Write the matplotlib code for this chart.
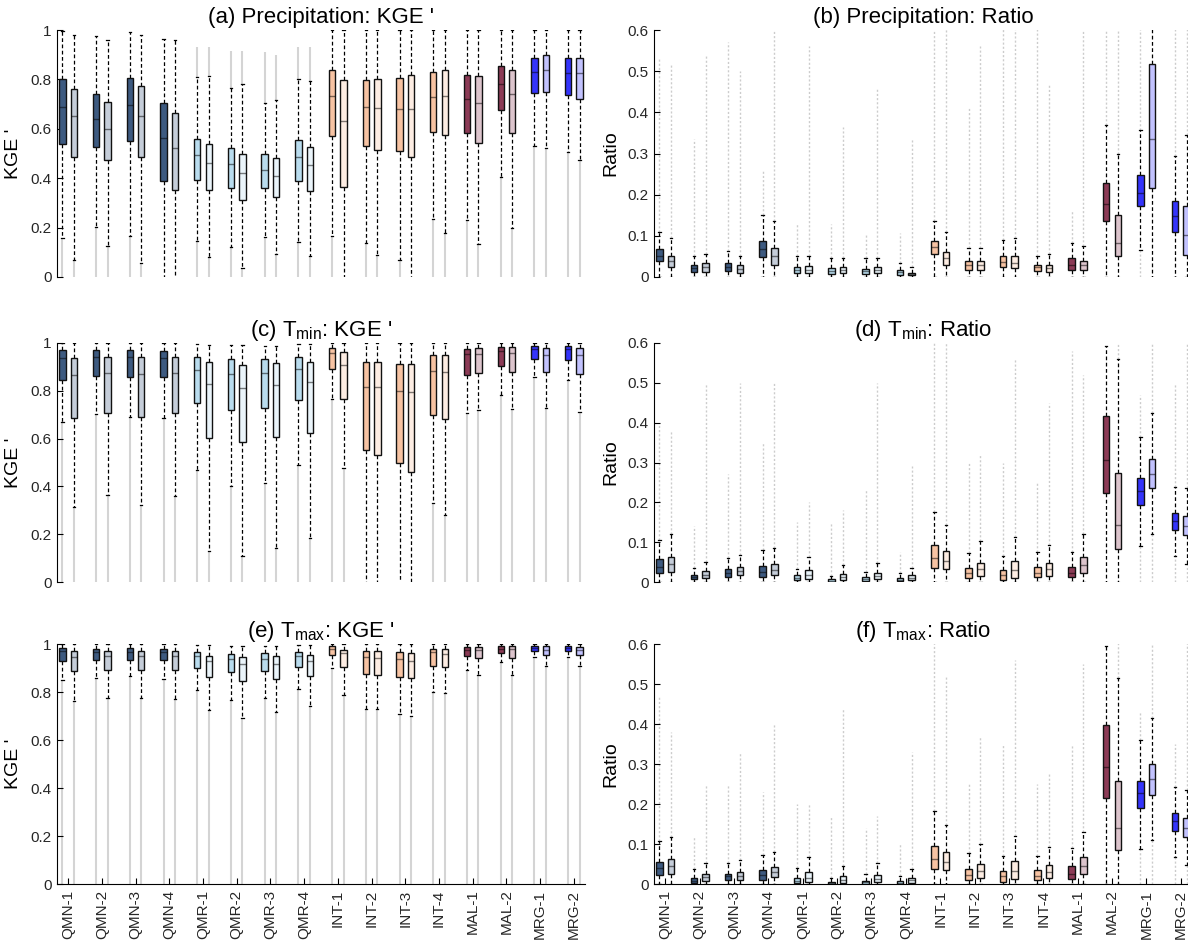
import numpy as np
import matplotlib
matplotlib.use('Agg')
import matplotlib.pyplot as plt
from matplotlib.colors import to_rgb

plt.rcParams['font.family'] = ['Liberation Sans', 'DejaVu Sans']
plt.rcParams['mathtext.fontset'] = 'custom'
plt.rcParams['mathtext.rm'] = 'Liberation Sans'
plt.rcParams['mathtext.it'] = 'Liberation Sans:italic'
plt.rcParams['mathtext.bf'] = 'Liberation Sans:bold'

nan = np.nan

methods = ['QMN-1', 'QMN-2', 'QMN-3', 'QMN-4', 'QMR-1', 'QMR-2', 'QMR-3', 'QMR-4',
           'INT-1', 'INT-2', 'INT-3', 'INT-4', 'MAL-1', 'MAL-2', 'MRG-1', 'MRG-2']
method_colors = ['#3d5a80'] * 4 + ['#b9dcee'] * 4 + ['#f7c3a3'] * 4 + ['#8c3b56'] * 2 + ['#3434fb'] * 2

kge_ticks = [0, 0.2, 0.4, 0.6, 0.8, 1]
kge_labels = ['0', '0.2', '0.4', '0.6', '0.8', '1']
ratio_ticks = [0, 0.1, 0.2, 0.3, 0.4, 0.5, 0.6]
ratio_labels = ['0', '0.1', '0.2', '0.3', '0.4', '0.5', '0.6']

# each list: two boxes per method (first / second), in method order
# (a) precipitation KGE'
a_q1 = [0.54, 0.484, 0.525, 0.473, 0.55, 0.485, 0.39, 0.354, 0.392, 0.351, 0.36, 0.311, 0.362, 0.322, 0.388, 0.348,
        0.57, 0.363, 0.532, 0.516, 0.511, 0.487, 0.589, 0.574, 0.581, 0.541, 0.676, 0.582, 0.745, 0.747, 0.735, 0.722]
a_med = [0.69, 0.65, 0.64, 0.60, 0.697, 0.652, 0.561, 0.524, 0.493, 0.463, 0.456, 0.421, 0.434, 0.408, 0.487, 0.452,
         0.733, 0.633, 0.687, 0.685, 0.681, 0.681, 0.729, 0.733, 0.721, 0.705, 0.781, 0.739, 0.828, 0.84, 0.826, 0.826]
a_q3 = [0.80, 0.76, 0.74, 0.709, 0.806, 0.774, 0.705, 0.664, 0.56, 0.537, 0.524, 0.50, 0.499, 0.481, 0.553, 0.528,
        0.838, 0.797, 0.797, 0.803, 0.806, 0.816, 0.83, 0.838, 0.816, 0.812, 0.856, 0.838, 0.887, 0.898, 0.887, 0.888]
a_wlo = [0.157, 0.07, 0.203, 0.126, 0.164, 0.057, -0.05, -0.05, 0.146, 0.082, 0.12, 0.035, 0.162, 0.093, 0.142, 0.086,
         0.165, -0.05, 0.136, 0.089, 0.07, -0.05, 0.233, 0.178, 0.229, 0.133, 0.406, 0.2, 0.532, 0.521, 0.505, 0.475]
a_whi = [0.997, 0.98, 0.977, 0.96, 0.99, 0.98, 0.964, 0.96, 0.808, 0.814, 0.766, 0.78, 0.705, 0.718, 0.80, 0.795,
         1.0, 1.0, 1.0, 1.0, 1.0, 1.0, 1.0, 1.0, 1.0, 1.0, 1.0, 1.0, 1.0, 1.0, 1.0, 1.0]
a_olo = [-0.05] * 32
a_ohi = [nan, nan, nan, nan, nan, nan, nan, nan, 0.93, 0.93, 0.917, 0.917, 0.91, 0.90, 0.93, 0.93,
         nan, nan, nan, nan, nan, nan, nan, nan, nan, nan, nan, nan, nan, nan, nan, nan]

# (b) precipitation ratio
b_q1 = [0.038, 0.025, 0.013, 0.013, 0.014, 0.01, 0.048, 0.03, 0.009, 0.01, 0.007, 0.009, 0.008, 0.009, 0.005, 0.004,
        0.055, 0.03, 0.018, 0.017, 0.024, 0.022, 0.015, 0.011, 0.017, 0.018, 0.135, 0.05, 0.173, 0.215, 0.11, 0.053]
b_med = [0.05, 0.04, 0.022, 0.024, 0.025, 0.02, 0.068, 0.05, 0.018, 0.018, 0.015, 0.016, 0.014, 0.016, 0.011, 0.008,
         0.072, 0.045, 0.03, 0.028, 0.036, 0.035, 0.024, 0.022, 0.03, 0.028, 0.178, 0.083, 0.205, 0.335, 0.148, 0.103]
b_q3 = [0.067, 0.052, 0.03, 0.033, 0.035, 0.03, 0.088, 0.07, 0.025, 0.026, 0.022, 0.024, 0.02, 0.025, 0.016, 0.01,
        0.088, 0.06, 0.04, 0.04, 0.05, 0.05, 0.03, 0.03, 0.045, 0.04, 0.228, 0.15, 0.247, 0.517, 0.185, 0.172]
b_wlo = [0, 0, 0, 0, 0, 0, 0, 0, 0, 0, 0, 0, 0, 0, 0, 0,
         0, 0, 0, 0, 0, 0, 0, 0, 0, 0, 0, 0, 0.065, 0, 0, 0]
b_whi = [0.11, 0.095, 0.052, 0.056, 0.064, 0.05, 0.15, 0.135, 0.05, 0.05, 0.045, 0.045, 0.045, 0.047, 0.035, 0.025,
         0.135, 0.11, 0.07, 0.07, 0.09, 0.095, 0.05, 0.055, 0.082, 0.076, 0.37, 0.3, 0.357, 0.65, 0.295, 0.345]
b_olo = [nan] * 28 + [0.0, nan, nan, nan]
b_ohi = [0.53, 0.52, 0.336, 0.536, 0.57, 0.5, 0.258, 0.6, 0.13, 0.56, 0.128, 0.364, 0.104, 0.46, 0.108, 0.336,
         0.65, 0.65, 0.41, 0.56, 0.65, 0.65, 0.65, 0.47, 0.16, 0.65, 0.65, 0.65, 0.65, nan, 0.65, 0.65]

# (c) Tmin KGE'
c_q1 = [0.847, 0.686, 0.861, 0.708, 0.858, 0.69, 0.856, 0.706, 0.751, 0.601, 0.72, 0.5875, 0.726, 0.606, 0.7625, 0.624,
        0.893, 0.767, 0.551, 0.53, 0.497, 0.46, 0.70, 0.68, 0.868, 0.875, 0.904, 0.879, 0.933, 0.88, 0.93, 0.872]
c_med = [0.939, 0.868, 0.94, 0.875, 0.94, 0.87, 0.939, 0.875, 0.889, 0.83, 0.87, 0.8125, 0.876, 0.824, 0.89, 0.836,
         0.958, 0.91, 0.817, 0.814, 0.799, 0.794, 0.882, 0.878, 0.953, 0.956, 0.967, 0.96, 0.974, 0.951, 0.974, 0.951]
c_q3 = [0.969, 0.9375, 0.969, 0.94, 0.972, 0.94, 0.967, 0.94, 0.94, 0.919, 0.933, 0.91, 0.933, 0.915, 0.943, 0.922,
        0.98, 0.961, 0.922, 0.922, 0.914, 0.914, 0.951, 0.951, 0.976, 0.98, 0.983, 0.983, 0.988, 0.98, 0.988, 0.979]
c_wlo = [0.67, 0.3125, 0.703, 0.364, 0.69, 0.324, 0.685, 0.358, 0.467, 0.129, 0.40, 0.108, 0.4125, 0.143, 0.489, 0.183,
         0.764, 0.476, -0.05, -0.05, -0.05, -0.05, 0.329, 0.279, 0.706, 0.72, 0.783, 0.724, 0.856, 0.73, 0.847, 0.7125]
c_whi = [1.0, 1.0, 1.0, 1.0, 1.0, 1.0, 1.0, 1.0, 0.996, 0.993, 0.99, 0.99, 0.988, 0.988, 0.996, 0.996,
         1.0, 1.0, 1.0, 1.0, 1.0, 1.0, 1.0, 1.0, 1.0, 1.0, 1.0, 1.0, 1.0, 1.0, 1.0, 1.0]
c_olo = [-0.05] * 32
c_ohi = [nan] * 32

# (d) Tmin ratio
d_q1 = [0.023, 0.026, 0.007, 0.01, 0.013, 0.017, 0.012, 0.018, 0.005, 0.007, 0.001, 0.005, 0.002, 0.007, 0.002, 0.004,
        0.036, 0.033, 0.011, 0.015, 0.004, 0.011, 0.012, 0.016, 0.012, 0.023, 0.223, 0.083, 0.194, 0.235, 0.131, 0.117]
d_med = [0.037, 0.044, 0.012, 0.018, 0.022, 0.027, 0.026, 0.03, 0.01, 0.017, 0.003, 0.012, 0.007, 0.015, 0.006, 0.011,
         0.061, 0.052, 0.022, 0.032, 0.017, 0.03, 0.023, 0.033, 0.023, 0.042, 0.306, 0.143, 0.229, 0.271, 0.154, 0.141]
d_q3 = [0.057, 0.063, 0.018, 0.027, 0.032, 0.037, 0.04, 0.044, 0.017, 0.03, 0.007, 0.02, 0.012, 0.023, 0.01, 0.017,
        0.092, 0.079, 0.035, 0.048, 0.029, 0.052, 0.037, 0.048, 0.037, 0.063, 0.416, 0.273, 0.26, 0.31, 0.173, 0.165]
d_wlo = [0, 0, 0, 0, 0, 0, 0, 0, 0, 0, 0, 0, 0, 0, 0, 0,
         0, 0, 0, 0, 0, 0, 0, 0, 0, 0, 0, 0, 0.09, 0.12, 0.065, 0.046]
d_whi = [0.106, 0.12, 0.036, 0.05, 0.06, 0.069, 0.08, 0.086, 0.033, 0.063, 0.015, 0.042, 0.026, 0.048, 0.022, 0.035,
         0.176, 0.143, 0.073, 0.102, 0.065, 0.113, 0.076, 0.094, 0.076, 0.121, 0.593, 0.56, 0.364, 0.424, 0.238, 0.235]
d_olo = [nan] * 28 + [0.0, 0.0, 0.0, 0.0]
d_ohi = [0.4, 0.38, 0.14, 0.5, 0.27, 0.5, 0.35, 0.5, 0.15, 0.2, 0.15, 0.18, 0.23, 0.5, 0.075, 0.29,
         0.65, 0.65, 0.3, 0.32, 0.3, 0.56, 0.25, 0.45, 0.58, 0.52, nan, 0.65, 0.47, 0.65, 0.5, 0.65]

# (e) Tmax KGE'
e_q1 = [0.93, 0.886, 0.932, 0.893, 0.935, 0.893, 0.932, 0.893, 0.9, 0.862, 0.882, 0.844, 0.889, 0.854, 0.904, 0.865,
        0.954, 0.903, 0.876, 0.872, 0.861, 0.857, 0.91, 0.903, 0.949, 0.942, 0.962, 0.943, 0.971, 0.954, 0.971, 0.953]
e_med = [0.969, 0.946, 0.965, 0.949, 0.967, 0.949, 0.967, 0.949, 0.949, 0.928, 0.939, 0.918, 0.939, 0.918, 0.949, 0.928,
         0.979, 0.962, 0.946, 0.943, 0.937, 0.93, 0.965, 0.958, 0.976, 0.976, 0.98, 0.979, 0.983, 0.976, 0.983, 0.974]
e_q3 = [0.982, 0.971, 0.98, 0.971, 0.983, 0.971, 0.98, 0.971, 0.965, 0.951, 0.958, 0.944, 0.962, 0.949, 0.967, 0.953,
        0.99, 0.976, 0.972, 0.972, 0.967, 0.962, 0.979, 0.979, 0.987, 0.987, 0.99, 0.99, 0.99, 0.99, 0.99, 0.987]
e_wlo = [0.851, 0.764, 0.857, 0.775, 0.865, 0.773, 0.854, 0.77, 0.807, 0.726, 0.768, 0.693, 0.775, 0.715, 0.812, 0.74,
         0.9, 0.789, 0.729, 0.729, 0.708, 0.701, 0.8, 0.796, 0.89, 0.872, 0.924, 0.872, 0.946, 0.907, 0.946, 0.907]
e_whi = [1.0, 1.0, 1.0, 1.0, 1.0, 1.0, 1.0, 1.0, 0.994, 0.994, 0.992, 0.992, 0.992, 0.992, 0.994, 0.994,
         1.0, 1.0, 1.0, 1.0, 1.0, 1.0, 1.0, 1.0, 1.0, 1.0, 1.0, 1.0, 1.0, 1.0, 1.0, 1.0]
e_olo = [-0.05] * 32
e_ohi = [nan] * 32

# (f) Tmax ratio
f_q1 = [0.0225, 0.024, 0.0025, 0.008, 0.009, 0.011, 0.011, 0.017, 0.0025, 0.006, 0.0, 0.003, 0.001, 0.004, 0.001, 0.003,
        0.0375, 0.034, 0.009, 0.015, 0.006, 0.013, 0.009, 0.015, 0.0125, 0.025, 0.215, 0.086, 0.19, 0.223, 0.133, 0.117]
f_med = [0.04, 0.044, 0.008, 0.0175, 0.019, 0.021, 0.0225, 0.029, 0.008, 0.015, 0.002, 0.011, 0.004, 0.0125, 0.003, 0.009,
         0.063, 0.056, 0.023, 0.033, 0.019, 0.033, 0.021, 0.029, 0.026, 0.046, 0.2925, 0.14, 0.2275, 0.2625, 0.157, 0.14]
f_q3 = [0.054, 0.0625, 0.015, 0.026, 0.026, 0.029, 0.034, 0.042, 0.015, 0.029, 0.004, 0.019, 0.008, 0.0225, 0.007, 0.015,
        0.096, 0.081, 0.0375, 0.05, 0.032, 0.057, 0.034, 0.047, 0.044, 0.0675, 0.398, 0.258, 0.258, 0.30, 0.177, 0.165]
f_wlo = [0, 0, 0, 0, 0, 0, 0, 0, 0, 0, 0, 0, 0, 0, 0, 0,
         0, 0, 0, 0, 0, 0, 0, 0, 0, 0, 0, 0, 0.0875, 0.111, 0.0675, 0.047]
f_whi = [0.107, 0.117, 0.037, 0.052, 0.052, 0.061, 0.072, 0.079, 0.04, 0.0675, 0.015, 0.044, 0.025, 0.052, 0.019, 0.037,
         0.183, 0.148, 0.0775, 0.10, 0.071, 0.12, 0.071, 0.0925, 0.089, 0.13, 0.594, 0.515, 0.36, 0.415, 0.242, 0.236]
f_olo = [nan] * 28 + [0.0, 0.0, 0.0, 0.0]
f_ohi = [0.47, 0.38, 0.12, 0.25, 0.25, 0.33, 0.23, 0.4, 0.2, 0.2, 0.17, 0.44, 0.14, 0.17, 0.1, 0.33,
         0.65, 0.52, 0.25, 0.37, 0.35, 0.56, 0.25, 0.28, 0.35, 0.55, nan, 0.65, 0.43, 0.65, 0.35, 0.65]


def light(c, a=0.3):
    r = np.array(to_rgb(c))
    return tuple(a * r + (1 - a))


def draw_panel(ax, q1, med, q3, wlo, whi, olo, ohi, ratio, title, bottom_row):
    pos = []
    for g in range(len(methods)):
        pos += [g + 1 - 0.17, g + 1 + 0.17]

    # dense outlier clouds drawn as grey strokes
    for i, x in enumerate(pos):
        if ratio:
            style = dict(color='#cccccc', lw=1.0, linestyle=(0, (1.5, 1.5)), zorder=1)
        else:
            style = dict(color='#d4d4d4', lw=1.5, zorder=1)
        if not np.isnan(ohi[i]) and ohi[i] > whi[i]:
            ax.vlines(x, whi[i], ohi[i], **style)
        if not np.isnan(olo[i]) and olo[i] < wlo[i]:
            ax.vlines(x, olo[i], wlo[i], **style)

    stats = [dict(q1=q1[i], med=med[i], q3=q3[i], whislo=wlo[i], whishi=whi[i]) for i in range(len(q1))]
    bp = ax.bxp(stats, positions=pos, widths=0.19, capwidths=0.07, patch_artist=True,
                showfliers=False, manage_ticks=False,
                boxprops=dict(edgecolor='#111111', linewidth=1.0),
                whiskerprops=dict(color='black', linestyle=(0, (3, 2)), linewidth=0.9),
                capprops=dict(color='black', linewidth=0.9),
                medianprops=dict(color='black', linewidth=1.0, alpha=0.5))
    for i, box in enumerate(bp['boxes']):
        c = method_colors[i // 2]
        box.set_facecolor(c if i % 2 == 0 else light(c))
        box.set_zorder(3)
    for k in ('whiskers', 'caps'):
        for ln in bp[k]:
            ln.set_zorder(2)
    for ln in bp['medians']:
        ln.set_zorder(4)

    ax.set_xlim(0.67, 16.33)
    if ratio:
        ax.set_ylim(0, 0.6)
        ax.set_yticks(ratio_ticks)
        ax.set_yticklabels(ratio_labels)
        ax.set_ylabel('Ratio', fontsize=14, labelpad=6)
    else:
        ax.set_ylim(0, 1)
        ax.set_yticks(kge_ticks)
        ax.set_yticklabels(kge_labels)
        ax.set_ylabel("KGE '", fontsize=14, labelpad=6)
    ax.set_title(title, fontsize=16, pad=5)
    ax.spines['top'].set_visible(False)
    ax.spines['right'].set_visible(False)
    ax.tick_params(axis='y', direction='in', length=4, labelsize=11, labelcolor='#262626', pad=4)
    if bottom_row:
        ax.set_xticks(range(1, len(methods) + 1))
        ax.set_xticklabels(methods, rotation=90)
        ax.tick_params(axis='x', direction='in', length=4, labelsize=11, labelcolor='#262626', pad=4)
    else:
        ax.spines['bottom'].set_visible(False)
        ax.set_xticks([])


fig = plt.figure(figsize=(11.88, 9.43), dpi=100)
W, H = 1188.0, 943.0
rows = [(30, 277), (343, 582), (644, 884)]
lefts = [(57, 528), (654, 538)]

panels = [
    (a_q1, a_med, a_q3, a_wlo, a_whi, a_olo, a_ohi, False, "(a) Precipitation: KGE '"),
    (b_q1, b_med, b_q3, b_wlo, b_whi, b_olo, b_ohi, True, "(b) Precipitation: Ratio"),
    (c_q1, c_med, c_q3, c_wlo, c_whi, c_olo, c_ohi, False, "(c) T$_{\\mathrm{min}}$: KGE '"),
    (d_q1, d_med, d_q3, d_wlo, d_whi, d_olo, d_ohi, True, "(d) T$_{\\mathrm{min}}$: Ratio"),
    (e_q1, e_med, e_q3, e_wlo, e_whi, e_olo, e_ohi, False, "(e) T$_{\\mathrm{max}}$: KGE '"),
    (f_q1, f_med, f_q3, f_wlo, f_whi, f_olo, f_ohi, True, "(f) T$_{\\mathrm{max}}$: Ratio"),
]

for k, p in enumerate(panels):
    r, c = divmod(k, 2)
    top, bot = rows[r]
    x0, w = lefts[c]
    ax = fig.add_axes([x0 / W, 1 - bot / H, w / W, (bot - top) / H])
    draw_panel(ax, *p[:7], ratio=p[7], title=p[8], bottom_row=(r == 2))

fig.savefig('out.png', dpi=100)
